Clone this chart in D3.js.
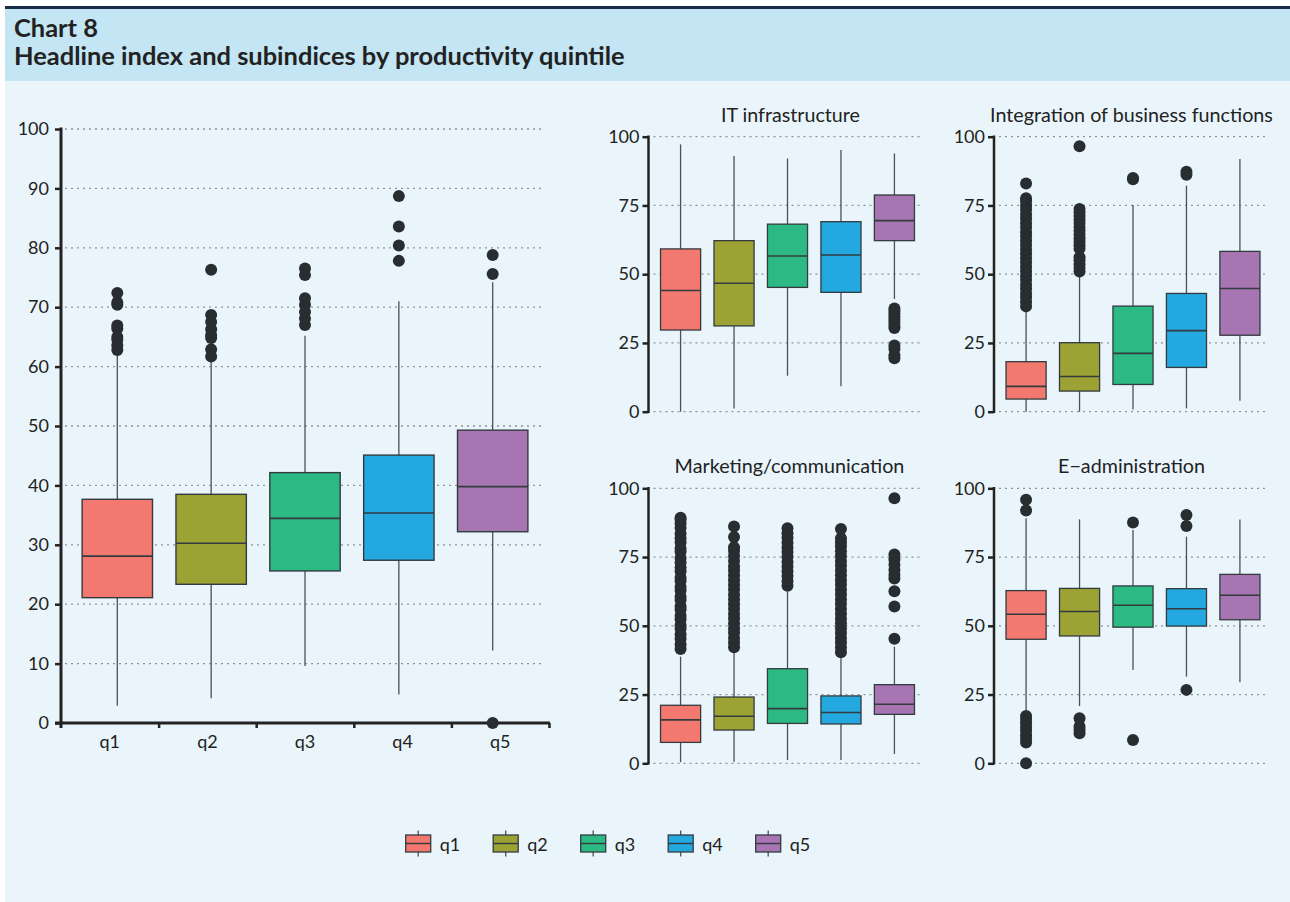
<!DOCTYPE html>
<html>
<head>
<meta charset="utf-8">
<script src="https://cdn.jsdelivr.net/npm/d3@7/dist/d3.min.js"></script>
<style>
  html, body { margin: 0; padding: 0; background: #ffffff; }
  svg { display: block; font-family: Lato, "Open Sans", sans-serif; }
</style>
</head>
<body>
<svg id="chart" width="1290" height="902"></svg>
<script>
// ---------------- DATA ----------------
const categories = ["q1", "q2", "q3", "q4", "q5"];
const colors = ["#f3786f", "#9ca234", "#2db984", "#23a8e0", "#a775b1"];

const chartNumber = "Chart 8";
const chartTitle = "Headline index and subindices by productivity quintile";

// Headline index
const headTicks = [0, 10, 20, 30, 40, 50, 60, 70, 80, 90, 100];
const headLow = [2.9, 4.15, 9.6, 4.8, 12.2];
const headQ1 = [21.1, 23.35, 25.6, 27.4, 32.2];
const headMed = [28.1, 30.25, 34.45, 35.35, 39.8];
const headQ3 = [37.66, 38.5, 42.15, 45.1, 49.3];
const headHigh = [62.5, 61.2, 65.2, 71.0, 74.2];
const headOut = [
  [62.8, 63.6, 64.5, 65.0, 66.4, 66.9, 70.4, 70.8, 72.4],
  [61.7, 62.9, 64.8, 65.3, 66.3, 67.5, 68.7, 76.3],
  [67.0, 68.1, 69.2, 70.4, 71.5, 75.4, 76.5],
  [77.8, 80.4, 83.6, 88.7],
  [0, 75.6, 78.8]
];

const subTicks = [0, 25, 50, 75, 100];

// IT infrastructure
const itLow = [0, 1.2, 13.1, 9.3, 41.0];
const itQ1 = [29.7, 31.2, 45.2, 43.4, 62.2];
const itMed = [44.1, 46.7, 56.6, 57.0, 69.5];
const itQ3 = [59.2, 62.2, 68.2, 69.1, 78.8];
const itHigh = [97.2, 93.0, 92.1, 95.2, 93.9];
const itOut = [[], [], [], [],
  [19.4, 20.5, 22.8, 24.1, 30.4, 31.3, 32.4, 33.5, 34.6, 35.7, 36.6, 37.5]];

// Integration of business functions
const intLow = [0, 0, 0.8, 1.2, 4.0];
const intQ1 = [4.6, 7.5, 9.9, 16.1, 27.8];
const intMed = [9.2, 12.8, 21.2, 29.5, 44.8];
const intQ3 = [18.2, 25.1, 38.4, 43.0, 58.3];
const intHigh = [37.6, 49.7, 75.2, 82.2, 91.9];
const intOut = [
  [38.3, 39.9, 41.6, 43.0, 44.7, 46.2, 47.9, 49.4, 51.1, 52.6, 54.3, 55.8, 57.5, 59.0, 60.6,
   62.2, 63.8, 65.3, 67.0, 68.5, 70.2, 71.7, 73.4, 74.9, 76.5, 77.6, 83.0],
  [51.0, 52.3, 53.6, 55.1, 56.2, 59.3, 60.5, 61.8, 63.1, 64.4, 65.9, 67.2, 68.6, 69.9, 71.2,
   72.5, 73.7, 96.5],
  [84.5, 85.0],
  [86.2, 87.3],
  []
];

// Marketing/communication
const mkLow = [0.4, 0.6, 1.2, 1.2, 3.4];
const mkQ1 = [7.6, 12.1, 14.5, 14.3, 17.8];
const mkMed = [15.8, 17.1, 19.9, 18.5, 21.5];
const mkQ3 = [21.1, 24.1, 34.4, 24.5, 28.6];
const mkHigh = [38.8, 40.2, 62.4, 38.2, 42.4];
const mkOut = [
  [41.6, 43.2, 45.3, 46.8, 48.9, 50.2, 52.4, 53.7, 55.9, 57.1, 59.4, 60.6, 62.8, 64.1, 66.3,
   67.5, 69.8, 71.2, 73.0, 74.7, 76.9, 78.1, 80.3, 81.8, 83.5, 85.6, 87.2, 88.6, 89.3],
  [42.2, 43.9, 45.6, 47.5, 49.0, 50.8, 52.7, 54.3, 56.1, 57.8, 59.6, 61.3, 63.2, 64.8, 66.6,
   68.3, 70.1, 71.7, 73.6, 75.4, 77.2, 78.6, 82.3, 86.1],
  [64.6, 66.3, 68.1, 69.8, 71.6, 73.2, 75.1, 76.8, 78.5, 80.2, 82.0, 83.7, 85.5],
  [40.4, 42.1, 43.9, 45.6, 47.4, 49.1, 50.9, 52.6, 54.4, 56.1, 57.9, 59.6, 61.4, 63.1, 64.9,
   66.6, 68.4, 70.1, 71.9, 73.6, 75.4, 77.1, 78.9, 80.4, 81.8, 85.2],
  [45.3, 57.0, 62.6, 67.2, 68.6, 70.3, 72.2, 74.1, 75.9, 96.4]
];

// E-administration
const eaLow = [19.4, 20.8, 33.9, 31.5, 29.5];
const eaQ1 = [45.1, 46.3, 49.5, 49.9, 52.2];
const eaMed = [54.2, 55.2, 57.5, 56.2, 61.1];
const eaQ3 = [62.8, 63.6, 64.5, 63.5, 68.7];
const eaHigh = [89.1, 88.7, 84.8, 82.4, 88.7];
const eaOut = [
  [0, 7.6, 8.9, 10.3, 11.8, 13.1, 14.6, 15.9, 17.2, 91.9, 95.8],
  [10.9, 12.2, 13.4, 16.4],
  [8.5, 87.6],
  [26.7, 86.3, 90.3],
  []
];

// ---------------- DRAWING ----------------
const svg = d3.select("#chart");
const TEXT = "#222222";
const GRID = "#8e9396";
const OUTLIER = "#272d30";

// background
svg.append("rect").attr("x", 5).attr("y", 81).attr("width", 1285).attr("height", 821).attr("fill", "#e9f5fb");
svg.append("rect").attr("x", 5).attr("y", 8).attr("width", 1285).attr("height", 73).attr("fill", "#c3e5f4");
svg.append("rect").attr("x", 5).attr("y", 6).attr("width", 1285).attr("height", 3).attr("fill", "#1b2b4b");

// header text
const t2 = svg.append("text").attr("x", 14).attr("y", 65).attr("font-size", 21)
  .attr("font-weight", "bold").attr("fill", TEXT).text(chartTitle);
{
  const w = t2.node().getComputedTextLength();
  t2.attr("font-size", 21 * 611 / w);
}
svg.append("text").attr("x", 14).attr("y", 37).attr("font-size", t2.attr("font-size"))
  .attr("font-weight", "bold").attr("fill", TEXT).text(chartNumber);

function fitText(sel, target) {
  const fs = parseFloat(sel.attr("font-size"));
  const w = sel.node().getComputedTextLength();
  sel.attr("font-size", fs * target / w);
}

function drawBoxes(g, x, y, low, q1, med, q3, high, outs, boxStroke) {
  const bw = x.step() * 0.75;
  categories.forEach((c, i) => {
    const cx = x(c);
    // whiskers
    g.append("line").attr("x1", cx).attr("x2", cx).attr("y1", y(high[i])).attr("y2", y(q3[i]))
      .attr("stroke", "#4a5155").attr("stroke-width", 1.3);
    g.append("line").attr("x1", cx).attr("x2", cx).attr("y1", y(q1[i])).attr("y2", y(low[i]))
      .attr("stroke", "#4a5155").attr("stroke-width", 1.3);
    // box
    g.append("rect").attr("x", cx - bw / 2).attr("y", y(q3[i])).attr("width", bw)
      .attr("height", y(q1[i]) - y(q3[i])).attr("fill", colors[i])
      .attr("stroke", "#333b3f").attr("stroke-width", boxStroke);
    g.append("line").attr("x1", cx - bw / 2).attr("x2", cx + bw / 2)
      .attr("y1", y(med[i])).attr("y2", y(med[i]))
      .attr("stroke", "#333b3f").attr("stroke-width", 1.6);
    // outliers
    g.selectAll(null).data(outs[i]).enter().append("circle")
      .attr("cx", cx).attr("cy", d => y(d)).attr("r", 6).attr("fill", OUTLIER);
  });
}

// ---- Main headline chart ----
{
  const x0 = 61, x1 = 549, yb = 723, yt = 129;
  const g = svg.append("g");
  const y = d3.scaleLinear().domain([0, 100]).range([yb, yt]);
  const xp = d3.scalePoint().domain(categories).range([x0, x1]).padding(0.6);
  const xb = d3.scaleBand().domain(categories).range([x0, x1]);
  const xl = d3.scaleLinear().domain([0, 5]).range([x0, x1]);

  // grid
  g.selectAll(null).data(headTicks.filter(d => d > 0)).enter().append("line")
    .attr("x1", x0 + 4).attr("x2", 545).attr("y1", d => y(d)).attr("y2", d => y(d))
    .attr("stroke", GRID).attr("stroke-width", 1.3).attr("stroke-dasharray", "2,4");

  drawBoxes(g, xp, y, headLow, headQ1, headMed, headQ3, headHigh, [[], [], [], [], []], 1.4);

  // y axis
  const ya = g.append("g").attr("transform", `translate(${x0},0)`)
    .call(d3.axisLeft(y).tickValues(headTicks).tickSize(6).tickPadding(6).tickSizeOuter(0));
  ya.select(".domain").remove();
  ya.selectAll(".tick line").attr("stroke", "#222").attr("stroke-width", 2.5);
  ya.selectAll("text").attr("font-size", 18).attr("fill", TEXT).attr("font-family", "Lato");
  g.append("line").attr("x1", x0).attr("x2", x0).attr("y1", yt - 1.5).attr("y2", yb + 5)
    .attr("stroke", "#222").attr("stroke-width", 3);

  // x axis: boundary ticks
  const xa = g.append("g").attr("transform", `translate(0,${yb})`)
    .call(d3.axisBottom(xl).tickValues([1, 2, 3, 4, 5]).tickFormat("").tickSize(5).tickSizeOuter(0));
  xa.select(".domain").remove();
  xa.selectAll(".tick line").attr("stroke", "#222").attr("stroke-width", 2.5);
  g.append("line").attr("x1", x0 - 6).attr("x2", x1 + 1).attr("y1", yb).attr("y2", yb)
    .attr("stroke", "#222").attr("stroke-width", 3);
  // labels
  const xla = g.append("g").attr("transform", `translate(0,${yb})`)
    .call(d3.axisBottom(xb).tickSize(0).tickPadding(12.5));
  xla.select(".domain").remove();
  xla.selectAll("text").attr("font-size", 18).attr("fill", TEXT).attr("font-family", "Lato");

  // outliers drawn on top of axis
  categories.forEach((c, i) => {
    g.selectAll(null).data(headOut[i]).enter().append("circle")
      .attr("cx", xp(c)).attr("cy", d => y(d)).attr("r", 6).attr("fill", OUTLIER);
  });
}

// ---- Small panels ----
const panels = [
  { title: "IT infrastructure", tw: 139, x0: 648.5, yb: 411.7, ty: 121.7, dx: 3,
    low: itLow, q1: itQ1, med: itMed, q3: itQ3, high: itHigh, out: itOut },
  { title: "Integration of business functions", tw: 283, x0: 994, yb: 411.7, ty: 121.7, dx: -1.5,
    low: intLow, q1: intQ1, med: intMed, q3: intQ3, high: intHigh, out: intOut },
  { title: "Marketing/communication", tw: 230, x0: 648.5, yb: 763.3, ty: 473.3, dx: 2,
    low: mkLow, q1: mkQ1, med: mkMed, q3: mkQ3, high: mkHigh, out: mkOut },
  { title: "E\u2212administration", tw: 147, x0: 994, yb: 763.3, ty: 473.3, dx: -1.5,
    low: eaLow, q1: eaQ1, med: eaMed, q3: eaQ3, high: eaHigh, out: eaOut }
];

panels.forEach(p => {
  const x0 = p.x0, x1 = p.x0 + 278, yb = p.yb, yt = p.yb - 275;
  const g = svg.append("g");
  const y = d3.scaleLinear().domain([0, 100]).range([yb, yt]);
  const xp = d3.scalePoint().domain(categories).range([x0, x1]).padding(0.6);

  g.selectAll(null).data(subTicks).enter().append("line")
    .attr("x1", x0 + 5).attr("x2", x1 - 3).attr("y1", d => y(d)).attr("y2", d => y(d))
    .attr("stroke", GRID).attr("stroke-width", 1.3).attr("stroke-dasharray", "2,4");

  drawBoxes(g, xp, y, p.low, p.q1, p.med, p.q3, p.high, p.out, 1.3);

  const ya = g.append("g").attr("transform", `translate(${x0},0)`)
    .call(d3.axisLeft(y).tickValues(subTicks).tickSize(6).tickPadding(3).tickSizeOuter(0));
  ya.select(".domain").remove();
  ya.selectAll(".tick line").attr("stroke", "#222").attr("stroke-width", 2.5);
  ya.selectAll("text").attr("font-size", 18).attr("fill", TEXT).attr("font-family", "Lato");
  g.append("line").attr("x1", x0).attr("x2", x0).attr("y1", yt - 1.2).attr("y2", yb + 1.2)
    .attr("stroke", "#222").attr("stroke-width", 2.5);

  const tt = g.append("text").attr("x", (x0 + x1) / 2 + p.dx).attr("y", p.ty)
    .attr("text-anchor", "middle").attr("font-size", 17).attr("fill", TEXT).text(p.title);
  fitText(tt, p.tw);
});

// ---- Legend ----
{
  const lx = d3.scalePoint().domain(categories).range([405.7, 755.7]);
  const g = svg.append("g");
  categories.forEach((c, i) => {
    const bx = lx(c), by = 835, bw = 25, bh = 17;
    g.append("line").attr("x1", bx + bw / 2).attr("x2", bx + bw / 2).attr("y1", by - 4.5).attr("y2", by + bh + 4.5)
      .attr("stroke", "#4a5155").attr("stroke-width", 1.3);
    g.append("rect").attr("x", bx).attr("y", by).attr("width", bw).attr("height", bh)
      .attr("fill", colors[i]).attr("stroke", "#333b3f").attr("stroke-width", 1.3);
    g.append("line").attr("x1", bx).attr("x2", bx + bw).attr("y1", by + bh / 2).attr("y2", by + bh / 2)
      .attr("stroke", "#333b3f").attr("stroke-width", 1.4);
    g.append("text").attr("x", bx + 34).attr("y", 851).attr("font-size", 18).attr("fill", TEXT).text(c);
  });
}
</script>
</body>
</html>
